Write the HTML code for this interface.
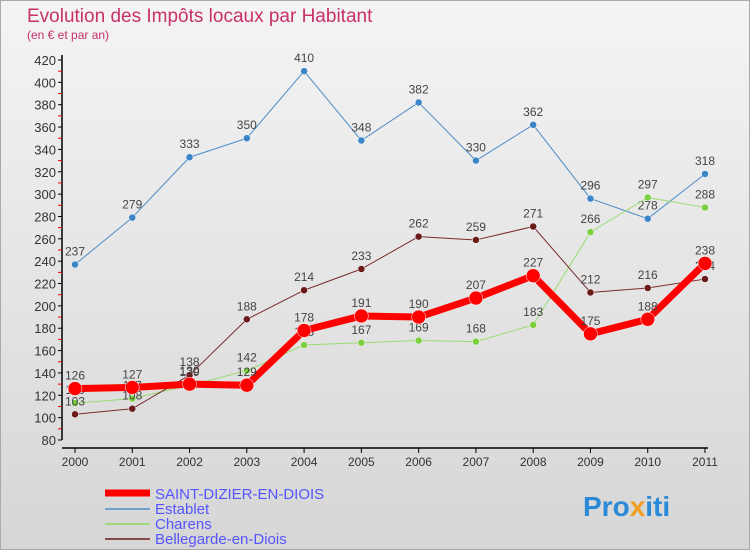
<!DOCTYPE html>
<html><head><meta charset="utf-8"><style>
body{margin:0;width:750px;height:550px;overflow:hidden;font-family:"Liberation Sans",sans-serif}
</style></head><body>
<svg width="750" height="550" xmlns="http://www.w3.org/2000/svg">
<defs><linearGradient id="bg" x1="0" y1="0" x2="0" y2="1"><stop offset="0" stop-color="#f4f4f4"/><stop offset="1" stop-color="#d6d6d6"/></linearGradient></defs>
<rect x="0.5" y="0.5" width="749" height="549" fill="url(#bg)" stroke="#aaa"/>
<text x="27" y="22" font-size="19" fill="#c8306a">Evolution des Impôts locaux par Habitant</text>
<text x="27" y="39" font-size="12" fill="#c8306a">(en € et par an)</text>
<g id="axes"></g><g id="series"></g>
<g>
<line x1="105" y1="493" x2="150" y2="493" stroke="#f00" stroke-width="7"/>
<text x="155" y="499" font-size="15" fill="#55f">SAINT-DIZIER-EN-DIOIS</text>
<line x1="105" y1="509" x2="150" y2="509" stroke="#4a8cc8" stroke-width="1.5"/>
<text x="155" y="514" font-size="15" fill="#55f">Establet</text>
<line x1="105" y1="524" x2="150" y2="524" stroke="#8fd860" stroke-width="1.5"/>
<text x="155" y="529" font-size="15" fill="#55f">Charens</text>
<line x1="105" y1="539" x2="150" y2="539" stroke="#6b1a1a" stroke-width="1.5"/>
<text x="155" y="544" font-size="15" fill="#55f">Bellegarde-en-Diois</text>
</g>
<text x="583" y="516" font-size="28" font-weight="bold" fill="#2a8ad8">Pro<tspan fill="#f0a020">x</tspan>iti</text>
</svg>
<script>
const years=["2000","2001","2002","2003","2004","2005","2006","2007","2008","2009","2010","2011"];
const yTicks=[80,100,120,140,160,180,200,220,240,260,280,300,320,340,360,380,400,420];
const saintDizier=[126,127,130,129,178,191,190,207,227,175,188,238];
const establet=[237,279,333,350,410,348,382,330,362,296,278,318];
const charens=[113,117,129,142,165,167,169,168,183,266,297,288];
const bellegarde=[103,108,138,188,214,233,262,259,271,212,216,224];
const NS="http://www.w3.org/2000/svg";
function X(i){return 75+i*(630/11);}
function Y(v){return 440-(v-80)*(380/340);}
function mk(tag,attrs,parent,text){const e=document.createElementNS(NS,tag);for(const k in attrs)e.setAttribute(k,attrs[k]);if(text!==undefined)e.textContent=text;parent.appendChild(e);return e;}
const ax=document.getElementById('axes');
const yl=mk('line',{x1:62,y1:55,x2:62,y2:440,stroke:'#000','stroke-width':1.5},ax);


const xl=mk('line',{x1:62,y1:448,x2:708,y2:448,stroke:'#000','stroke-width':1.5},ax);


yTicks.forEach(v=>{
 mk('line',{x1:58,y1:Y(v),x2:62,y2:Y(v),stroke:'#000'},ax);
 if(v<420)mk('line',{x1:58,y1:Y(v+10),x2:62,y2:Y(v+10),stroke:'#e00'},ax);
 const t=mk('text',{x:56,y:Y(v)+5,'font-size':13,fill:'#333','text-anchor':'end'},ax,v);
 
 
});
years.forEach((y,i)=>{
 mk('line',{x1:X(i),y1:448,x2:X(i),y2:453,stroke:'#000'},ax);
 const t=mk('text',{x:X(i),y:466,'font-size':12,fill:'#333','text-anchor':'middle'},ax,y);
 
 
});
const sg=document.getElementById('series');
function draw(data,color,w,r,name,pcol){
 const g=mk('g',{},sg);
 
 
 const p=mk('polyline',{points:data.map((v,i)=>X(i)+','+Y(v)).join(' '),fill:'none',stroke:color,'stroke-width':w,'stroke-linejoin':'round'},g);
 
 
 data.forEach((v,i)=>{
  const c=mk('circle',{cx:X(i),cy:Y(v),r:r,fill:pcol,stroke:'#fff','stroke-width':0.5},g);
  
  
  const t=mk('text',{x:X(i),y:Y(v)-9,'font-size':12,fill:'#444','text-anchor':'middle'},g,v);
  
  
 });
}
draw(establet,'#4a8cc8',1,3.5,'establet','#3a84c8');
draw(charens,'#98dc70',1,3.5,'charens','#7cd040');
draw(bellegarde,'#7a2a2a',1,3.5,'bellegarde','#6b1a1a');
draw(saintDizier,'#f00',7,7,'saint-dizier','#f00');
</script>
</body></html>
